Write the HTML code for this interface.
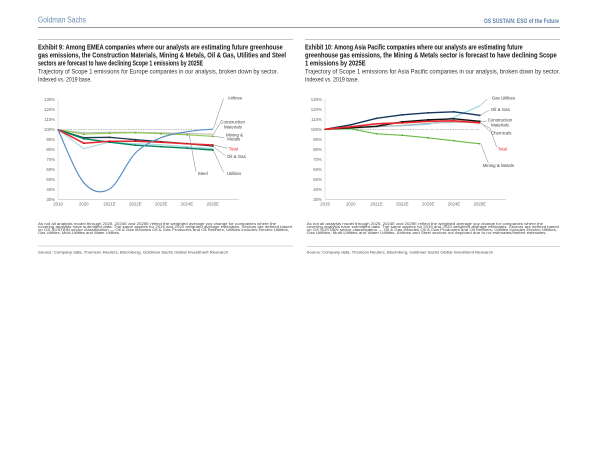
<!DOCTYPE html>
<html><head><meta charset="utf-8"><style>
html,body{margin:0;padding:0;background:#fff;}
svg{display:block;font-family:"Liberation Sans",Arial,sans-serif;}
</style></head><body>
<svg width="600" height="463" viewBox="0 0 600 463" xmlns="http://www.w3.org/2000/svg">
<rect width="600" height="463" fill="#fff"/>
<!-- header -->
<text x="38" y="22.6" font-size="8" fill="#6a8cb3" textLength="48" lengthAdjust="spacingAndGlyphs">Goldman Sachs</text>
<text x="484" y="23" font-size="6.2" font-weight="bold" fill="#5a7fa8" textLength="75" lengthAdjust="spacingAndGlyphs">GS SUSTAIN: ESG of the Future</text>
<line x1="38" y1="27.5" x2="560" y2="27.5" stroke="#9a9a9a" stroke-width="1"/>
<line x1="38" y1="39.5" x2="293" y2="39.5" stroke="#c4c4c4" stroke-width="1"/>
<line x1="305" y1="39.5" x2="560" y2="39.5" stroke="#c4c4c4" stroke-width="1"/>

<!-- left titles -->
<g font-size="7" font-weight="bold" fill="#1a1a1a">
<text x="38" y="49.6" textLength="244.7" lengthAdjust="spacingAndGlyphs">Exhibit 9: Among EMEA companies where our analysts are estimating future greenhouse</text>
<text x="38" y="57.6" textLength="248" lengthAdjust="spacingAndGlyphs">gas emissions, the Construction Materials, Mining &amp; Metals, Oil &amp; Gas, Utilities and Steel</text>
<text x="38" y="65.6" textLength="165" lengthAdjust="spacingAndGlyphs">sectors are forecast to have declining Scope 1 emissions by 2025E</text>
<text x="305" y="49.6" textLength="217.7" lengthAdjust="spacingAndGlyphs">Exhibit 10: Among Asia Pacific companies where our analysts are estimating future</text>
<text x="305" y="57.6" textLength="251.7" lengthAdjust="spacingAndGlyphs">greenhouse gas emissions, the Mining &amp; Metals sector is forecast to have declining Scope</text>
<text x="305" y="65.6" textLength="60.7" lengthAdjust="spacingAndGlyphs">1 emissions by 2025E</text>
</g>
<g font-size="6.4" fill="#333">
<text x="38" y="73.4" textLength="240" lengthAdjust="spacingAndGlyphs">Trajectory of Scope 1 emissions for Europe companies in our analysis, broken down by sector.</text>
<text x="38" y="81.4" textLength="53.7" lengthAdjust="spacingAndGlyphs">Indexed vs. 2019 base.</text>
<text x="305" y="73.4" textLength="255" lengthAdjust="spacingAndGlyphs">Trajectory of Scope 1 emissions for Asia Pacific companies in our analysis, broken down by sector.</text>
<text x="305" y="81.4" textLength="54" lengthAdjust="spacingAndGlyphs">Indexed vs. 2019 base.</text>
</g>

<!-- LEFT CHART -->
<g font-size="4.3" fill="#666" text-anchor="end">
<text x="55" y="101.2">130%</text>
<text x="55" y="111.2">120%</text>
<text x="55" y="121.2">110%</text>
<text x="55" y="131.2">100%</text>
<text x="55" y="141.2">90%</text>
<text x="55" y="151.2">80%</text>
<text x="55" y="161.2">70%</text>
<text x="55" y="171.2">60%</text>
<text x="55" y="181.2">50%</text>
<text x="55" y="191.2">40%</text>
<text x="55" y="201.2">30%</text>
</g>
<line x1="58" y1="99" x2="58" y2="199.7" stroke="#d4d4d4" stroke-width="0.6"/>
<line x1="58" y1="199.7" x2="239" y2="199.7" stroke="#c0c0c0" stroke-width="0.6"/>
<g font-size="4.3" fill="#666" text-anchor="middle">
<text x="58" y="205.3">2019</text>
<text x="83.8" y="205.3">2020</text>
<text x="109.6" y="205.3">2021E</text>
<text x="135.4" y="205.3">2022E</text>
<text x="161.2" y="205.3">2023E</text>
<text x="187" y="205.3">2024E</text>
<text x="212.8" y="205.3">2025E</text>
</g>
<line x1="58" y1="129.7" x2="212.8" y2="129.7" stroke="#9a9a9a" stroke-width="0.6" stroke-dasharray="1.5,1"/>
<g fill="none" stroke-linejoin="round" stroke-linecap="round">
<polyline stroke="#b8b8b8" stroke-width="1" points="58,129.7 83.8,132.7 109.6,132.2 135.4,132.2 161.2,132.7 187,133.5 212.8,134.3"/>
<polyline stroke="#93cb4f" stroke-width="1.1" points="58,129.7 83.8,134.2 109.6,133.2 135.4,132.7 161.2,133.7 187,134.8 212.8,136.3"/>
<polyline stroke="#a3d9e3" stroke-width="1.1" points="58,129.7 83.8,148.7 109.6,142 135.4,143.7 161.2,144.7 187,146.7 212.8,148.7"/>
<polyline stroke="#1e3d4f" stroke-width="1.3" points="58,129.7 83.8,137.7 109.6,137.3 135.4,139.7 161.2,141.7 187,143.7 212.8,146"/>
<polyline stroke="#00855a" stroke-width="1.4" points="58,129.7 83.8,138.7 109.6,142.2 135.4,145.2 161.2,146.7 187,148.2 212.8,150"/>
<polyline stroke="#e8262b" stroke-width="1.5" points="58,129.7 83.8,143.2 109.6,141.2 135.4,141.2 161.2,142.2 187,143.7 212.8,145"/>
<path stroke="#5b90c2" stroke-width="1.2" d="M58,129.7 C62.3,138.5 75.2,172.8 83.8,182.7 C92.4,192.6 101,194 109.6,189 C118.2,184.05 126.8,161.55 135.4,153 C144,144.45 152.6,141.25 161.2,137.7 C169.8,134.15 178.4,133.03 187,131.7 C195.6,130.37 208.5,129.37 212.8,129.2"/>
</g>
<g fill="#333">
<rect x="83" y="136.9" width="1.6" height="1.6"/><rect x="108.8" y="136.5" width="1.6" height="1.6"/><rect x="134.6" y="138.9" width="1.6" height="1.6"/><rect x="160.4" y="140.9" width="1.6" height="1.6"/><rect x="186.2" y="142.9" width="1.6" height="1.6"/><rect x="212" y="145.2" width="1.6" height="1.6"/>
</g>
<g fill="#00704a">
<rect x="83" y="137.9" width="1.6" height="1.6"/><rect x="108.8" y="141.4" width="1.6" height="1.6"/><rect x="134.6" y="144.4" width="1.6" height="1.6"/><rect x="160.4" y="145.9" width="1.6" height="1.6"/><rect x="186.2" y="147.4" width="1.6" height="1.6"/><rect x="212" y="149.2" width="1.6" height="1.6"/>
</g>
<g fill="#c01a20">
<rect x="83" y="142.4" width="1.6" height="1.6"/><rect x="108.8" y="140.4" width="1.6" height="1.6"/><rect x="134.6" y="140.4" width="1.6" height="1.6"/><rect x="160.4" y="141.4" width="1.6" height="1.6"/><rect x="186.2" y="142.9" width="1.6" height="1.6"/><rect x="212" y="144.2" width="1.6" height="1.6"/>
</g>
<g fill="#6aa83a">
<rect x="83" y="133.4" width="1.6" height="1.6"/><rect x="108.8" y="132.4" width="1.6" height="1.6"/><rect x="134.6" y="131.9" width="1.6" height="1.6"/><rect x="160.4" y="132.9" width="1.6" height="1.6"/><rect x="186.2" y="134" width="1.6" height="1.6"/><rect x="212" y="135.5" width="1.6" height="1.6"/>
</g>
<!-- left leaders -->
<g stroke="#808080" stroke-width="0.5" fill="none">
<line x1="223.5" y1="98.5" x2="213.5" y2="128.3"/>
<line x1="220" y1="123.3" x2="213.5" y2="134.3"/>
<line x1="224.3" y1="137.7" x2="213.5" y2="136.3"/>
<line x1="227.5" y1="148.3" x2="213.5" y2="145"/>
<line x1="225.5" y1="155.7" x2="213.5" y2="146.8"/>
<line x1="223.5" y1="172.3" x2="213.5" y2="150.5"/>
<line x1="196" y1="172" x2="189" y2="134"/>
</g>
<g font-size="4.4" fill="#444">
<text x="227.7" y="99.6">Airlines</text>
<text x="220.3" y="123.3">Construction</text>
<text x="224" y="128.6">Materials</text>
<text x="226" y="136.6">Mining &amp;</text>
<text x="227.3" y="140.6">Metals</text>
<text x="228.7" y="150.3" fill="#e8262b">Total</text>
<text x="227" y="157.9">Oil &amp; Gas</text>
<text x="197.7" y="174.9">Steel</text>
<text x="227" y="174.9">Utilities</text>
</g>

<!-- RIGHT CHART -->
<g font-size="4.3" fill="#666" text-anchor="end">
<text x="321.8" y="100.8">130%</text>
<text x="321.8" y="110.8">120%</text>
<text x="321.8" y="120.8">110%</text>
<text x="321.8" y="130.8">100%</text>
<text x="321.8" y="140.8">90%</text>
<text x="321.8" y="150.8">80%</text>
<text x="321.8" y="160.8">70%</text>
<text x="321.8" y="170.8">60%</text>
<text x="321.8" y="180.8">50%</text>
<text x="321.8" y="190.8">40%</text>
<text x="321.8" y="200.8">30%</text>
</g>
<line x1="325" y1="99" x2="325" y2="199.3" stroke="#d4d4d4" stroke-width="0.6"/>
<line x1="325" y1="199.3" x2="506" y2="199.3" stroke="#c0c0c0" stroke-width="0.6"/>
<g font-size="4.3" fill="#666" text-anchor="middle">
<text x="325" y="205.3">2019</text>
<text x="350.8" y="205.3">2020</text>
<text x="376.6" y="205.3">2021E</text>
<text x="402.4" y="205.3">2022E</text>
<text x="428.2" y="205.3">2023E</text>
<text x="454" y="205.3">2024E</text>
<text x="479.8" y="205.3">2025E</text>
</g>
<line x1="325" y1="129.3" x2="479.8" y2="129.3" stroke="#9a9a9a" stroke-width="0.6" stroke-dasharray="1.5,1"/>
<g fill="none" stroke-linejoin="round" stroke-linecap="round">
<polyline stroke="#8fd4e4" stroke-width="1.1" points="325,129.3 350.8,128.3 376.6,126.3 402.4,125.8 428.2,124.3 454,117.3 479.8,105.8"/>
<polyline stroke="#b4b4b4" stroke-width="1.1" points="325,129.3 350.8,128.3 376.6,126.8 402.4,125.3 428.2,123.3 454,122.3 479.8,122.3"/>
<polyline stroke="#6cbc45" stroke-width="1.2" points="325,129.3 350.8,128.8 376.6,133.8 402.4,135.3 428.2,137.8 454,140.8 479.8,143.8"/>
<polyline stroke="#17375e" stroke-width="1.4" points="325,129.3 350.8,124.8 376.6,118.3 402.4,114.8 428.2,112.8 454,111.8 479.8,115.3"/>
<polyline stroke="#111" stroke-width="1.4" points="325,129.3 350.8,127.8 376.6,126.3 402.4,121.8 428.2,119.8 454,118.8 479.8,121.3"/>
<polyline stroke="#e8262b" stroke-width="1.7" points="325,129.3 350.8,126.8 376.6,123.8 402.4,122.8 428.2,121.3 454,120.8 479.8,122.8"/>
</g>
<g fill="#17375e">
<rect x="350" y="124" width="1.6" height="1.6"/><rect x="375.8" y="117.5" width="1.6" height="1.6"/><rect x="401.6" y="114" width="1.6" height="1.6"/><rect x="427.4" y="112" width="1.6" height="1.6"/><rect x="453.2" y="111" width="1.6" height="1.6"/><rect x="479" y="114.5" width="1.6" height="1.6"/>
</g>
<g fill="#111">
<rect x="375.8" y="125.5" width="1.6" height="1.6"/><rect x="401.6" y="121" width="1.6" height="1.6"/><rect x="427.4" y="119" width="1.6" height="1.6"/><rect x="453.2" y="118" width="1.6" height="1.6"/><rect x="479" y="120.5" width="1.6" height="1.6"/>
</g>
<g fill="#4f9a30">
<rect x="375.8" y="133" width="1.4" height="1.4"/><rect x="401.6" y="134.5" width="1.4" height="1.4"/><rect x="427.4" y="137" width="1.4" height="1.4"/><rect x="453.2" y="140" width="1.4" height="1.4"/><rect x="479" y="143" width="1.4" height="1.4"/>
</g>
<g stroke="#808080" stroke-width="0.5" fill="none">
<line x1="487" y1="99" x2="480.5" y2="105.8"/>
<line x1="489" y1="110" x2="481" y2="115"/>
<line x1="486.7" y1="121" x2="481" y2="121.5"/>
<line x1="490.5" y1="132.3" x2="481.5" y2="123"/>
<polyline points="496.7,147.3 490,128.3 481,123.5"/>
<line x1="488.3" y1="163" x2="481" y2="144.5"/>
</g>
<g font-size="4.4" fill="#444">
<text x="491.7" y="99.3">Gas Utilities</text>
<text x="491" y="110.9">Oil &amp; Gas</text>
<text x="487.7" y="121.6">Construction</text>
<text x="491" y="126.7">Materials</text>
<text x="491" y="134.3">Chemicals</text>
<text x="497.7" y="150.6" fill="#e8262b">Total</text>
<text x="482.7" y="166.9">Mining &amp; Metals</text>
</g>

<!-- footnotes -->
<g font-size="3.4" fill="#444">
<text x="38" y="225.2" textLength="238" lengthAdjust="spacingAndGlyphs">As not all analysts model through 2025, 2024E and 2025E reflect the weighted average yoy change for companies where the</text>
<text x="38" y="228.2" textLength="254" lengthAdjust="spacingAndGlyphs">covering analysts have submitted data. The same applies for 2019 and 2020 weighted average estimates. Sectors are defined based</text>
<text x="38" y="231.2" textLength="251" lengthAdjust="spacingAndGlyphs">on GS SUSTAIN sector classification — Oil &amp; Gas includes Oil &amp; Gas Producers and Oil Refiners, Utilities includes Electric Utilities,</text>
<text x="38" y="234.2" textLength="82" lengthAdjust="spacingAndGlyphs">Gas Utilities, Multi-Utilities and Water Utilities.</text>
<text x="306.7" y="225.2" textLength="236.3" lengthAdjust="spacingAndGlyphs">As not all analysts model through 2025, 2024E and 2025E reflect the weighted average yoy change for companies where the</text>
<text x="306.7" y="228.2" textLength="252.3" lengthAdjust="spacingAndGlyphs">covering analysts have submitted data. The same applies for 2019 and 2020 weighted average estimates. Sectors are defined based</text>
<text x="306.7" y="231.2" textLength="250.3" lengthAdjust="spacingAndGlyphs">on GS SUSTAIN sector classification — Oil &amp; Gas includes Oil &amp; Gas Producers and Oil Refiners, Utilities includes Electric Utilities,</text>
<text x="306.7" y="234.2" textLength="240" lengthAdjust="spacingAndGlyphs">Gas Utilities, Multi-Utilities and Water Utilities. Airlines and Steel sectors not depicted due to no estimates/limited estimates.</text>
</g>
<line x1="38" y1="246" x2="293" y2="246" stroke="#b0b0b0" stroke-width="0.6"/>
<line x1="307" y1="246.5" x2="560" y2="246.5" stroke="#b0b0b0" stroke-width="0.6"/>
<g font-size="3.7" fill="#444">
<text x="38" y="253.3" textLength="190" lengthAdjust="spacingAndGlyphs">Source: Company data, Thomson Reuters, Bloomberg, Goldman Sachs Global Investment Research</text>
<text x="306.7" y="253.3" textLength="186.3" lengthAdjust="spacingAndGlyphs">Source: Company data, Thomson Reuters, Bloomberg, Goldman Sachs Global Investment Research</text>
</g>
</svg>
</body></html>
